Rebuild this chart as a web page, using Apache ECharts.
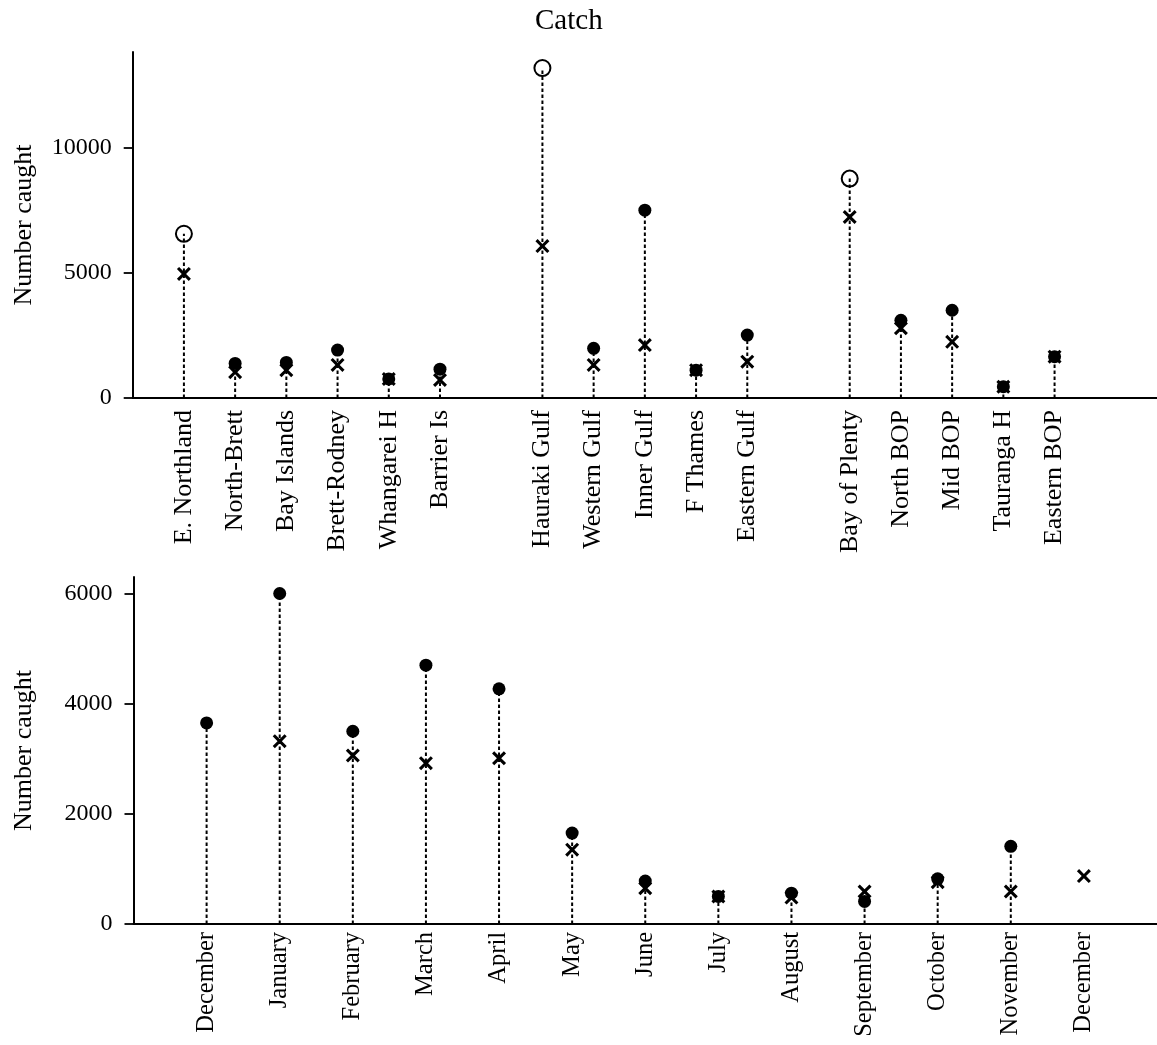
<!DOCTYPE html>
<html>
<head>
<meta charset="utf-8">
<title>Catch</title>
<script src="https://cdn.jsdelivr.net/npm/echarts@6/dist/echarts.min.js"></script>
<style>
  html, body { margin: 0; padding: 0; background: #fff; }
  #chart { width: 1157px; height: 1045px; }
</style>
</head>
<body>
<div id="chart"></div>
<script>
// Catch by region (blank entries separate the three region groups)
const regions = ['E. Northland', 'North-Brett', 'Bay Islands', 'Brett-Rodney', 'Whangarei H', 'Barrier Is', '',
  'Hauraki Gulf', 'Western Gulf', 'Inner Gulf', 'F Thames', 'Eastern Gulf', '',
  'Bay of Plenty', 'North BOP', 'Mid BOP', 'Tauranga H', 'Eastern BOP'];
const regionCircle = [6550, 1380, 1420, 1910, 760, 1150, null, 13160, 1980, 7490, 1110, 2510, null, 8750, 3100, 3500, 450, 1650];
const regionCross = [4950, 1030, 1110, 1320, 760, 720, null, 6060, 1320, 2110, 1110, 1450, null, 7220, 2780, 2240, 450, 1650];
// group totals are drawn as open circles
const regionTotals = ['E. Northland', 'Hauraki Gulf', 'Bay of Plenty'];
const regionTicks = [0, 5000, 10000];

// Catch by month
const months = ['December', 'January', 'February', 'March', 'April', 'May', 'June', 'July',
  'August', 'September', 'October', 'November', 'December'];
const monthCircle = [3650, 6000, 3500, 4700, 4270, 1650, 780, 500, 560, 410, 820, 1410, null];
const monthCross = [null, 3320, 3060, 2920, 3010, 1350, 650, 500, 480, 590, 760, 590, 870];
const monthTicks = [0, 2000, 4000, 6000];

const FONT = '"Liberation Serif", "Times New Roman", serif';
// bold diagonal cross marker
const CROSS = 'path://M1.56,0 L5,3.44 L8.44,0 L10,1.56 L6.56,5 L10,8.44 L8.44,10 L5,6.56 L1.56,10 L0,8.44 L3.44,5 L0,1.56 Z';

function points(values) {
  const out = [];
  values.forEach((v, i) => { if (v != null) out.push([i + 1, v]); });
  return out;
}

function labelPositions(labels) {
  const out = [];
  labels.forEach((l, i) => { if (l) out.push(i + 1); });
  return out;
}

// dotted stem from zero up to the circle value
function dropLine(params, api) {
  const x = api.value(0), v = api.value(1);
  const p0 = api.coord([x, 0]);
  const p1 = api.coord([x, v]);
  return {
    type: 'line',
    shape: { x1: p0[0], y1: p0[1], x2: p1[0], y2: p1[1] },
    style: { stroke: '#000', lineWidth: 2, lineDash: [3.5, 2.5] }
  };
}

function xAxisFor(gridIndex, labels, max, fontSize, margin) {
  return {
    type: 'value', gridIndex, min: 0, max, interval: 1,
    splitLine: { show: false },
    axisLine: { show: true, onZero: false, lineStyle: { color: '#000', width: 2 } },
    axisTick: { show: false },
    axisLabel: {
      customValues: labelPositions(labels),
      rotate: 90, margin, color: '#000', fontFamily: FONT, fontSize,
      formatter: v => labels[Math.round(v) - 1] || ''
    }
  };
}

function yAxisFor(gridIndex, ticks, max) {
  return {
    type: 'value', gridIndex, min: 0, max,
    name: 'Number caught', nameLocation: 'middle', nameRotate: 90, nameGap: 96,
    nameTextStyle: { color: '#000', fontFamily: FONT, fontSize: 26 },
    splitLine: { show: false },
    axisLine: { show: true, lineStyle: { color: '#000', width: 2 } },
    axisTick: { show: true, customValues: ticks, length: 9, lineStyle: { color: '#000', width: 1.8 } },
    axisLabel: {
      customValues: ticks, margin: 21, color: '#000', fontFamily: FONT, fontSize: 24,
      formatter: v => String(v)
    }
  };
}

const regionCircleData = [];
regionCircle.forEach((v, i) => {
  if (v == null) return;
  const open = regionTotals.includes(regions[i]);
  regionCircleData.push({
    value: [i + 1, v],
    symbolSize: open ? 16 : 13,
    itemStyle: open
      ? { color: 'rgba(0,0,0,0)', borderColor: '#000', borderWidth: 2, opacity: 1 }
      : { color: '#000', opacity: 1 }
  });
});

const solid = { color: '#000', opacity: 1 };

const chart = echarts.init(document.getElementById('chart'), null, { renderer: 'canvas' });
chart.setOption({
  animation: false,
  backgroundColor: '#fff',
  title: {
    text: 'Catch', left: 530, top: 2,
    textStyle: { color: '#000', fontFamily: FONT, fontSize: 29, fontWeight: 'normal' }
  },
  grid: [
    { left: 132.7, right: -2, top: 52, bottom: 647 },
    { left: 133.5, right: -4, top: 577, bottom: 121 }
  ],
  xAxis: [
    xAxisFor(0, regions, 20, 26, 12),
    xAxisFor(1, months, 14, 24.5, 8)
  ],
  yAxis: [
    yAxisFor(0, regionTicks, 13800),
    yAxisFor(1, monthTicks, 6300)
  ],
  series: [
    { type: 'custom', xAxisIndex: 0, yAxisIndex: 0, renderItem: dropLine, data: points(regionCircle), z: 1, silent: true },
    { type: 'custom', xAxisIndex: 1, yAxisIndex: 1, renderItem: dropLine, data: points(monthCircle), z: 1, silent: true },
    { type: 'scatter', xAxisIndex: 0, yAxisIndex: 0, symbol: CROSS, symbolSize: 14,
      itemStyle: solid, data: points(regionCross), z: 2 },
    { type: 'scatter', xAxisIndex: 1, yAxisIndex: 1, symbol: CROSS, symbolSize: 14,
      itemStyle: solid, data: points(monthCross), z: 2 },
    { type: 'scatter', xAxisIndex: 0, yAxisIndex: 0, symbol: 'circle',
      itemStyle: solid, data: regionCircleData, z: 3 },
    { type: 'scatter', xAxisIndex: 1, yAxisIndex: 1, symbol: 'circle', symbolSize: 13,
      itemStyle: solid, data: points(monthCircle), z: 3 }
  ]
});
</script>
</body>
</html>
